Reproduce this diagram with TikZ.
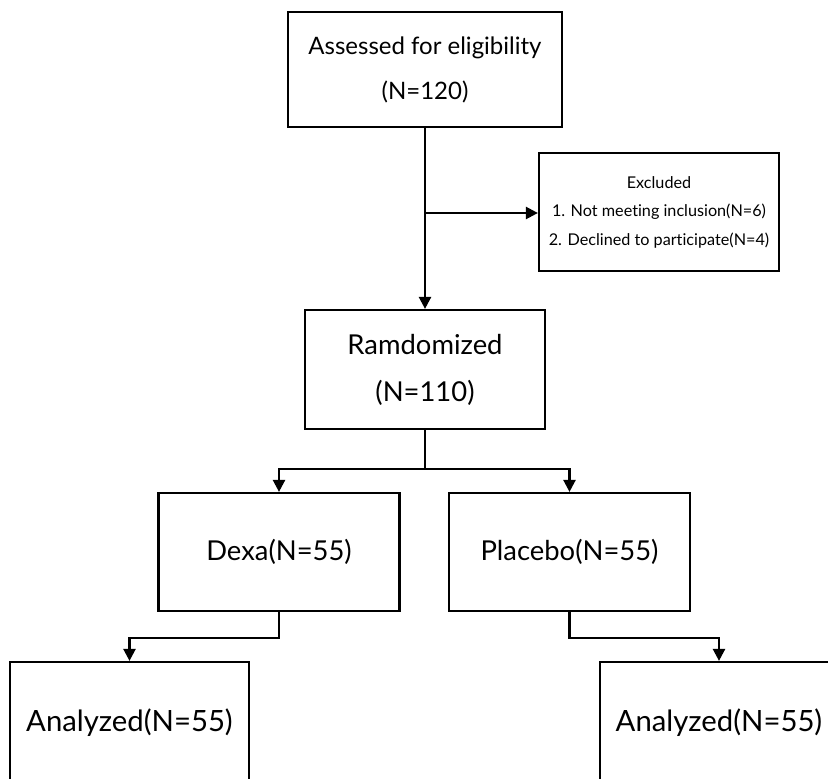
\documentclass[tikz,border=0pt]{standalone}
\usepackage{fontspec}
\setmainfont[Ligatures={NoCommon}]{Lato}
\usetikzlibrary{arrows.meta}
\begin{document}
\begin{tikzpicture}[x=1pt,y=-1pt,
  box/.style={draw=black,line width=2.2pt,rectangle,inner sep=0pt,align=center},
  big/.style={font=\fontsize{24}{45}\selectfont},
  mid/.style={font=\fontsize{27.4}{47}\selectfont},
  large/.style={font=\fontsize{29.3}{47}\selectfont},
  small/.style={font=\fontsize{16.2}{28.5}\selectfont},
  conn/.style={line width=2.4pt,-{Triangle[length=12pt,width=12pt]}}]
\useasboundingbox (0,0) rectangle (828,779);
\clip (0,0) rectangle (828,779);
\fill[white] (0,0) rectangle (828,779);
\node[box,big,minimum width=274pt,minimum height=115pt] (top) at (425,69.5) {Assessed for eligibility\\(N=120)};
\node[box,small,minimum width=240pt,minimum height=118pt] (excl) at (659,212) {Excluded\\1. Not meeting inclusion(N=6)\\2. Declined to participate(N=4)};
\node[box,mid,minimum width=240pt,minimum height=119pt] (rand) at (425,369.5) {Ramdomized\\(N=110)};
\node[box,mid,minimum width=241pt,minimum height=118pt] (dexa) at (279,552) {Dexa(N=55)};
\node[box,mid,minimum width=241pt,minimum height=118pt] (plac) at (569.5,552) {Placebo(N=55)};
\node[box,large,minimum width=239pt,minimum height=122pt] (an1) at (129.5,723) {Analyzed(N=55)};
\node[box,large,minimum width=238pt,minimum height=122pt] (an2) at (719,723) {Analyzed(N=55)};
\coordinate (br) at (425,213);
\draw[conn] (top.south) -- (rand.north);
\draw[conn] (br) -- (excl.west |- br);
\draw[conn] (rand.south) -- ++(0,39) -| (dexa.north);
\draw[conn] (rand.south) -- ++(0,39) -| (plac.north);
\draw[conn] (dexa.south) -- ++(0,26) -| (an1.north);
\draw[conn] (plac.south) -- ++(0,26) -| (an2.north);
\end{tikzpicture}
\end{document}
